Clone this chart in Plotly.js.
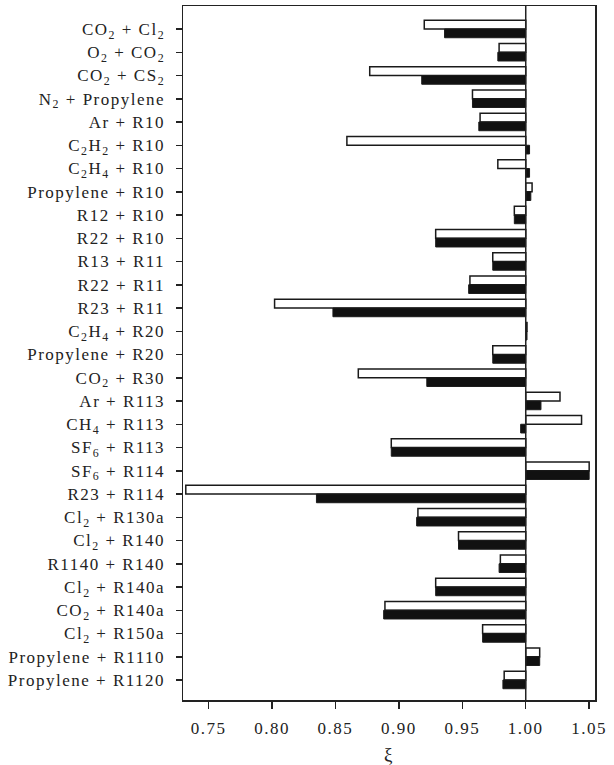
<!DOCTYPE html>
<html>
<head>
<meta charset="utf-8">
<script src="https://cdn.plot.ly/plotly-3.0.1.min.js"></script>
<style>
html,body{margin:0;padding:0;background:#fff;}
#chart{width:614px;height:765px;}
#chart .xtick text, #chart .ytick text, #chart .g-xtitle text {letter-spacing:1.5px;}
</style>
</head>
<body>
<div id="chart"></div>
<script>
const categories = [
  "CO<sub>2</sub> + Cl<sub>2</sub>",
  "O<sub>2</sub> + CO<sub>2</sub>",
  "CO<sub>2</sub> + CS<sub>2</sub>",
  "N<sub>2</sub> + Propylene",
  "Ar + R10",
  "C<sub>2</sub>H<sub>2</sub> + R10",
  "C<sub>2</sub>H<sub>4</sub> + R10",
  "Propylene + R10",
  "R12 + R10",
  "R22 + R10",
  "R13 + R11",
  "R22 + R11",
  "R23 + R11",
  "C<sub>2</sub>H<sub>4</sub> + R20",
  "Propylene + R20",
  "CO<sub>2</sub> + R30",
  "Ar + R113",
  "CH<sub>4</sub> + R113",
  "SF<sub>6</sub> + R113",
  "SF<sub>6</sub> + R114",
  "R23 + R114",
  "Cl<sub>2</sub> + R130a",
  "Cl<sub>2</sub> + R140",
  "R1140 + R140",
  "Cl<sub>2</sub> + R140a",
  "CO<sub>2</sub> + R140a",
  "Cl<sub>2</sub> + R150a",
  "Propylene + R1110",
  "Propylene + R1120"
];
const whiteValues = [0.920, 0.979, 0.877, 0.958, 0.964, 0.859, 0.978, 1.005, 0.991, 0.929,
  0.974, 0.956, 0.802, 1.001, 0.974, 0.868, 1.027, 1.044, 0.894, 1.050,
  0.732, 0.915, 0.947, 0.980, 0.929, 0.889, 0.966, 1.011, 0.983];
const blackValues = [0.936, 0.978, 0.918, 0.958, 0.963, 1.003, 1.003, 1.004, 0.991, 0.929,
  0.974, 0.955, 0.848, 1.001, 0.974, 0.922, 1.012, 0.996, 0.894, 1.050,
  0.835, 0.914, 0.947, 0.979, 0.929, 0.888, 0.966, 1.011, 0.982];
const baseValue = 1.0;
const xTicks = [0.75, 0.80, 0.85, 0.90, 0.95, 1.00, 1.05];

const font = {family: "Liberation Serif, Times New Roman, serif", size: 17, color: "#222"};

const traces = [
  {
    type: "bar", orientation: "h", y: categories,
    x: whiteValues.map(v => v - baseValue), base: baseValue,
    marker: {color: "#ffffff", line: {color: "#1a1a1a", width: 1.5}},
    showlegend: false, hoverinfo: "skip"
  },
  {
    type: "bar", orientation: "h", y: categories,
    x: blackValues.map(v => v - baseValue), base: baseValue,
    marker: {color: "#111111", line: {color: "#1a1a1a", width: 1}},
    showlegend: false, hoverinfo: "skip"
  }
];

const layout = {
  width: 614, height: 765,
  margin: {l: 183, r: 19, t: 6, b: 65},
  paper_bgcolor: "#fff", plot_bgcolor: "#fff",
  barmode: "group", bargap: 0.25, bargroupgap: 0,
  font: font,
  xaxis: {
    range: [0.7298, 1.0546],
    tickvals: xTicks,
    ticktext: xTicks.map(v => v.toFixed(2)),
    ticks: "outside", ticklen: 7, tickwidth: 1.5, tickcolor: "#222",
    ticklabelstandoff: 5,
    showline: true, linecolor: "#222", linewidth: 1.5, mirror: true,
    showgrid: false, zeroline: false,
    tickfont: font,
    title: {text: "ξ", font: {family: font.family, size: 19, color: "#222"}, standoff: 11}
  },
  yaxis: {
    type: "category",
    categoryorder: "array", categoryarray: categories,
    range: [28.86, -0.99],
    ticks: "outside", ticklen: 6, tickwidth: 1.5, tickcolor: "#222",
    ticklabelstandoff: 7,
    showline: true, linecolor: "#222", linewidth: 1.5, mirror: true,
    showgrid: false, zeroline: false,
    tickfont: font
  },
  shapes: [{
    type: "line", xref: "x", yref: "paper", x0: baseValue, x1: baseValue, y0: 0, y1: 1,
    line: {color: "#222", width: 1.5}
  }]
};

Plotly.newPlot("chart", traces, layout, {staticPlot: true, displayModeBar: false});
</script>
</body>
</html>
